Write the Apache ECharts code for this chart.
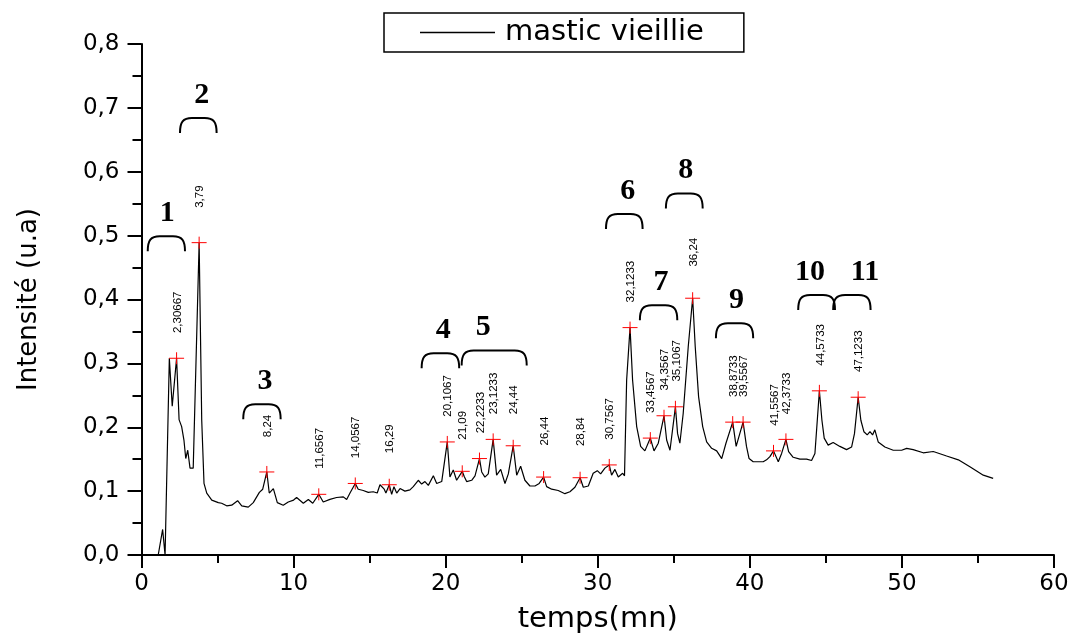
<!DOCTYPE html>
<html><head><meta charset="utf-8">
<script src="https://cdn.jsdelivr.net/npm/echarts/dist/echarts.min.js"></script>
<style>html,body{margin:0;padding:0;background:#fff}#chart{width:1074px;height:634px}</style>
</head><body><div id="chart"></div>
<script>
// ---- chromatogram trace (time in min, intensity in u.a) ----
const times = [1.10,1.39,1.55,1.66,1.83,2.02,2.3067,2.47,2.64,2.79,2.91,3.04,3.19,3.40,3.79,3.96,4.11,4.29,4.62,5.05,5.27,5.60,5.93,6.32,6.59,7.02,7.35,7.75,7.97,8.24,8.40,8.67,8.93,9.32,9.65,10.00,10.20,10.64,10.97,11.26,11.6567,11.95,12.39,12.83,13.27,13.49,13.71,14.0567,14.25,14.58,14.91,15.24,15.50,15.68,15.96,16.07,16.29,16.45,16.60,16.78,17.00,17.32,17.65,17.87,18.20,18.42,18.64,18.86,19.19,19.41,19.74,20.1067,20.28,20.50,20.72,21.09,21.22,21.38,21.71,21.93,22.2233,22.37,22.58,22.80,23.1233,23.35,23.62,23.90,24.12,24.44,24.67,24.93,25.21,25.54,25.87,26.15,26.44,26.64,26.97,27.40,27.84,28.17,28.50,28.84,29.05,29.38,29.70,29.97,30.19,30.47,30.7567,30.91,31.13,31.35,31.64,31.76,31.90,32.1233,32.29,32.56,32.82,33.10,33.4567,33.70,33.98,34.3567,34.53,34.75,35.1067,35.25,35.40,35.62,35.95,36.24,36.41,36.63,36.90,37.16,37.49,37.82,38.15,38.43,38.8733,39.10,39.5567,39.78,39.95,40.22,40.55,40.88,41.10,41.32,41.5567,41.87,42.09,42.3733,42.55,42.85,43.29,43.73,44.06,44.28,44.5733,44.74,44.89,45.15,45.48,45.92,46.36,46.69,46.88,47.1233,47.30,47.50,47.72,47.90,48.07,48.22,48.44,48.88,49.43,49.98,50.31,50.74,51.40,52.06,52.94,53.71,54.47,55.35,56.00];
const intensity = [0.000,0.040,0.000,0.000,0.308,0.233,0.308,0.212,0.201,0.180,0.151,0.164,0.136,0.136,0.489,0.211,0.112,0.097,0.086,0.082,0.081,0.077,0.078,0.085,0.077,0.075,0.082,0.098,0.103,0.130,0.097,0.104,0.082,0.078,0.083,0.086,0.090,0.081,0.087,0.081,0.095,0.083,0.087,0.090,0.091,0.087,0.097,0.112,0.103,0.101,0.098,0.099,0.097,0.110,0.103,0.097,0.110,0.095,0.107,0.097,0.104,0.100,0.102,0.107,0.117,0.111,0.115,0.109,0.124,0.112,0.115,0.177,0.122,0.133,0.117,0.131,0.123,0.115,0.117,0.124,0.151,0.130,0.122,0.127,0.181,0.125,0.134,0.112,0.127,0.171,0.125,0.139,0.117,0.108,0.108,0.112,0.122,0.107,0.103,0.101,0.096,0.099,0.106,0.121,0.106,0.108,0.128,0.132,0.127,0.136,0.141,0.125,0.134,0.122,0.128,0.124,0.274,0.356,0.274,0.201,0.170,0.163,0.183,0.163,0.175,0.218,0.180,0.164,0.232,0.190,0.175,0.222,0.326,0.402,0.326,0.248,0.201,0.177,0.167,0.163,0.151,0.175,0.208,0.170,0.208,0.170,0.151,0.146,0.146,0.146,0.149,0.154,0.163,0.146,0.159,0.181,0.162,0.153,0.150,0.150,0.148,0.159,0.257,0.211,0.183,0.172,0.176,0.170,0.165,0.169,0.190,0.247,0.211,0.193,0.188,0.193,0.188,0.196,0.177,0.169,0.164,0.164,0.167,0.165,0.160,0.162,0.155,0.149,0.138,0.125,0.120];

// ---- detected peaks (red crosses) ----
const peakTimes = [2.30667,3.79,8.24,11.6567,14.0567,16.29,20.1067,21.09,22.2233,23.1233,24.44,26.44,28.84,30.7567,32.1233,33.4567,34.3567,35.1067,36.24,38.8733,39.5567,41.5567,42.3733,44.5733,47.1233];
const peakHeights = [0.308,0.489,0.130,0.095,0.112,0.110,0.177,0.131,0.151,0.181,0.171,0.122,0.121,0.141,0.356,0.183,0.218,0.232,0.402,0.208,0.208,0.163,0.181,0.257,0.247];
const peakLabels = peakTimes.map(t => String(t).replace('.', ','));

// ---- numbered peak groups (bracket start/end time, bracket top, label time) ----
const groupNames = ['1','2','3','4','5','6','7','8','9','10','11'];
const groupStart = [0.41,2.53,6.69,18.42,21.05,30.54,32.77,34.48,37.77,43.18,45.48];
const groupEnd   = [2.86,4.94,9.15,20.89,25.33,32.95,35.23,36.90,40.22,45.60,47.94];
const groupTop   = [0.499,0.684,0.236,0.316,0.320,0.534,0.391,0.566,0.363,0.407,0.407];
const groupLabelT = [1.70,3.96,8.12,19.84,22.47,31.97,34.16,35.78,39.13,43.95,47.57];

// ---- axes ----
const xTicks = {min: 0, max: 60, interval: 10};
const yTicks = {min: 0, max: 0.8, interval: 0.1};
const seriesName = 'mastic vieillie';
const xTitle = 'temps(mn)';
const yTitle = 'Intensité (u.a)';

const lineData = times.map((t, i) => [t, intensity[i]]);
const peakData = peakTimes.map((t, i) => [t, peakHeights[i], i]);
const groupData = groupNames.map((n, i) => [groupStart[i], groupEnd[i], groupTop[i], groupLabelT[i], i]);

const chart = echarts.init(document.getElementById('chart'), null, {renderer: 'canvas'});
const axisFont = 'DejaVu Sans';
chart.setOption({
  animation: false,
  backgroundColor: '#ffffff',
  grid: {left: 141.5, right: 20, top: 44, bottom: 79, containLabel: false, outerBoundsMode: 'none'},
  legend: {
    data: [{name: seriesName, icon: 'path://M0,0H100V2H0Z'}], left: 384, top: 13, selectedMode: false,
    borderColor: '#000', borderWidth: 1.5, padding: [5, 40, 5, 36],
    itemWidth: 77, itemHeight: 1.5,
    textStyle: {fontFamily: axisFont, fontSize: 29, color: '#000', padding: [0, 0, 0, 4]}
  },
  xAxis: {
    type: 'value', min: xTicks.min, max: xTicks.max, interval: xTicks.interval,
    name: xTitle, nameLocation: 'middle', nameGap: 50,
    nameTextStyle: {fontFamily: axisFont, fontSize: 29, color: '#000'},
    axisLine: {show: true, onZero: false, lineStyle: {color: '#000', width: 2}},
    axisTick: {show: true, length: 13, lineStyle: {color: '#000', width: 2}},
    minorTick: {show: true, splitNumber: 2, length: 8, lineStyle: {color: '#000', width: 2}},
    splitLine: {show: false},
    axisLabel: {fontFamily: axisFont, fontSize: 23, color: '#000', margin: 18}
  },
  yAxis: {
    type: 'value', min: yTicks.min, max: yTicks.max, interval: yTicks.interval,
    name: yTitle, nameLocation: 'middle', nameGap: 99,
    nameTextStyle: {fontFamily: axisFont, fontSize: 26, color: '#000'},
    axisLine: {show: true, lineStyle: {color: '#000', width: 2}},
    axisTick: {show: true, length: 14, lineStyle: {color: '#000', width: 2}},
    minorTick: {show: true, splitNumber: 2, length: 9, lineStyle: {color: '#000', width: 2}},
    splitLine: {show: false},
    axisLabel: {fontFamily: axisFont, fontSize: 23, color: '#000', margin: 22,
      formatter: v => v.toFixed(1).replace('.', ',')}
  },
  series: [
    {
      name: seriesName, type: 'line', data: lineData, symbol: 'none', smooth: false,
      lineStyle: {color: '#000', width: 1.2}, itemStyle: {color: '#000'}, z: 2, silent: true
    },
    {
      type: 'custom', coordinateSystem: 'cartesian2d', data: peakData, z: 3, silent: true,
      encode: {x: 0, y: 1},
      renderItem: function (params, api) {
        const p = api.coord([api.value(0), api.value(1)]);
        const lbl = peakLabels[api.value(2)];
        return {type: 'group', children: [
          {type: 'line', shape: {x1: p[0] - 7.5, y1: p[1], x2: p[0] + 7.5, y2: p[1]}, style: {stroke: '#ff0000', lineWidth: 1}},
          {type: 'line', shape: {x1: p[0], y1: p[1] - 6, x2: p[0], y2: p[1] + 6}, style: {stroke: '#ff0000', lineWidth: 1}},
          {type: 'text', x: p[0] + 1, y: p[1] - 46, rotation: Math.PI / 2,
            style: {text: lbl, align: 'center', verticalAlign: 'middle', font: '11.5px "Liberation Sans"', fill: '#000'}}
        ]};
      }
    },
    {
      type: 'custom', coordinateSystem: 'cartesian2d', data: groupData, z: 3, silent: true,
      encode: {x: [0, 1, 3], y: 2},
      renderItem: function (params, api) {
        const a = api.coord([api.value(0), api.value(2)]);
        const b = api.coord([api.value(1), api.value(2)]);
        const c = api.coord([api.value(3), api.value(2)]);
        const x0 = a[0], x1 = b[0], y = a[1], d = 15;
        const path = `M${x0},${y + d} C${x0},${y + 4} ${x0 + 3},${y} ${x0 + 12},${y} L${x1 - 12},${y} C${x1 - 3},${y} ${x1},${y + 4} ${x1},${y + d}`;
        return {type: 'group', children: [
          {type: 'path', shape: {pathData: path}, style: {stroke: '#000', lineWidth: 2, fill: null}},
          {type: 'text', x: c[0], y: y - 23,
            style: {text: groupNames[api.value(4)], align: 'center', verticalAlign: 'middle', font: 'bold 30px "Liberation Serif"', fill: '#000'}}
        ]};
      }
    }
  ]
});
</script></body></html>
